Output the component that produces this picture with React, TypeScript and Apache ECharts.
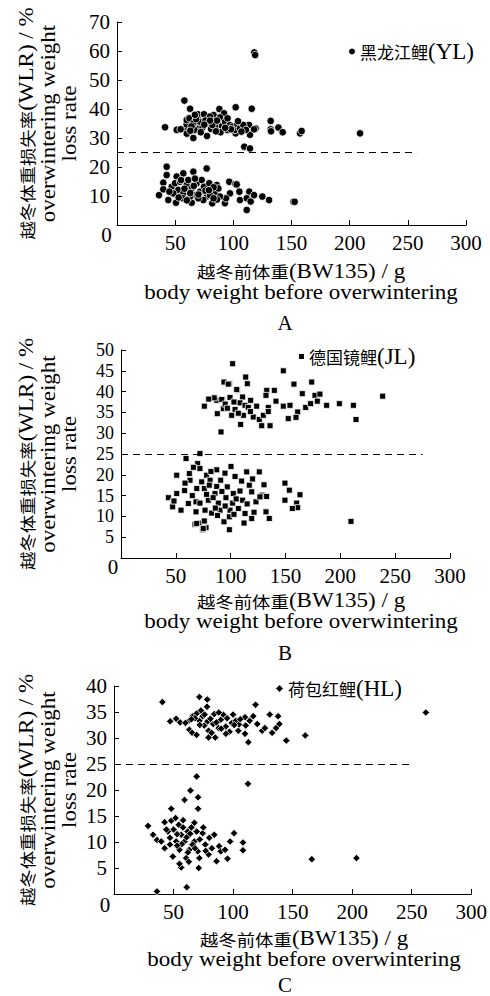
import React, { useEffect, useRef } from "react";
import * as echarts from "echarts";

// ---------- data ----------
const seriesNames = ["黑龙江鲤(YL)", "德国镜鲤(JL)", "荷包红鲤(HL)"];
const panelLetters = ["A", "B", "C"];
const xTicks = [0, 50, 100, 150, 200, 250, 300];
const yMaxes = [70, 50, 40];
const yIntervals = [10, 5, 5];
const thresholdWLR = 25;
const thresholdEnds = [258, 275, 250];

// 黑龙江鲤 (YL): [BW135 g, WLR %]
const ylPoints = [
  [41.3, 33.7], [52.1, 33], [57.9, 42.9], [62.8, 40.1], [58.5, 33], [59.9, 34.7], [61.3, 36.7], [65.6, 30],
  [70.2, 37.9], [70.7, 33.3], [77.4, 30.7], [78.8, 37.1], [83, 37.9], [88, 40], [92, 38.5], [102, 40.6],
  [115.8, 40.1], [118, 59.5], [118.8, 58.6], [109.4, 27], [114.3, 26.4], [113.5, 34.5], [114.3, 31.1],
  [119.2, 33.3], [110.6, 32.8], [102, 31.6], [132.1, 35.9], [132.1, 33], [132.4, 32.3], [138.7, 33.6],
  [142.4, 32], [157.3, 31.6], [158.7, 32.4], [208.9, 31.6],
  [51.3, 32.8], [54.7, 33], [59.9, 36.2], [62.2, 36.8], [65.6, 35.1], [66.5, 32.8], [69.5, 38.2], [71.3, 35.6],
  [73.6, 33.7], [74.8, 38.2], [77.1, 35.1], [79.9, 37.4], [80.8, 33.1], [84.2, 35.6], [86.2, 33.9], [88.5, 37.1],
  [90.3, 34.1], [92.8, 35.5], [94.8, 32.8], [97.1, 34.5], [99.4, 33.9], [101.4, 32.8], [103.4, 34.8],
  [105.7, 33.3], [108.6, 34.5], [110.9, 32.8], [117.8, 33],
  [64, 34], [68, 36.5], [72, 32], [76, 36], [82, 34.5], [86, 36], [95, 36.8], [98, 33], [60, 31.5], [89, 32],
  [67, 38], [80, 36], [93, 33.5], [104, 35.8], [107, 32.2], [63, 32.5], [75, 34.6], [85, 32.3],
  [36.1, 10.3], [42.7, 20.1], [42.7, 17.2], [39.8, 14.6], [39.8, 12.3], [44.1, 8.6], [51.3, 16.7], [57, 17.8],
  [65.6, 18.4], [77.1, 19.5], [50.7, 7.7], [64.2, 7.7], [81.9, 7.5], [96.5, 14.9], [97.1, 10.9], [101.7, 14.1],
  [105.2, 11.5], [105.7, 8.6], [111.5, 5.2], [113.7, 11.5], [111.5, 9.2], [114.9, 8.1], [117.8, 10.3],
  [124.9, 9.8], [130.7, 8.6], [151.6, 8], [152.7, 8], [92.8, 7.5], [93.7, 9.2],
  [47, 13.2], [49.9, 14.4], [54.2, 14.9], [52.7, 12.1], [57, 10.9], [59.9, 13.8], [61.3, 15.5], [64.2, 12.6],
  [67.1, 10.3], [68.5, 14.4], [71.3, 11.5], [72.8, 15.5], [74.8, 13.2], [77.1, 9.8], [79.3, 14.4], [81.4, 12.1],
  [84.2, 10.9], [85.7, 13.8], [87.1, 12.6], [88.5, 9.8], [56.5, 9.2], [48.4, 10.9], [74.2, 8.6], [69.9, 9.2],
  [62.8, 9.8], [45, 11.5], [53, 9.5], [58, 12.5], [66, 13.5], [70, 10.5], [76, 11.8], [80, 10.3], [83, 13],
  [86, 8.8], [63, 11], [55, 15.5], [79, 12], [60, 8.5], [67, 16], [83, 9.2], [102.9, 14],
];

// 德国镜鲤 (JL)
const jlPoints = [
  [76, 36.5], [87.8, 34.7], [91.2, 30.3], [87.3, 37.9], [92.7, 38.1], [93.9, 42.3], [98.8, 41.9], [101.8, 46.7],
  [99.4, 38.6], [93.3, 35.9], [104, 35.7], [100.9, 34.3], [106.1, 40.3], [109.1, 32.1], [110.9, 38.7],
  [108.5, 37.3], [113.7, 43.5], [115.2, 41.9], [113.1, 36.7], [111.6, 34.3], [116.1, 36.2], [118.2, 37.9],
  [120.6, 33.9], [123.7, 36.5], [126.1, 33.3], [128.3, 31.8], [129.8, 34.3], [132.9, 40.3], [132.2, 39.1],
  [134.3, 36.2], [134.3, 35.2], [135.9, 31.8], [139.8, 40.3], [141.3, 37.7], [148, 45], [148, 36.5],
  [152.5, 33.5], [154.1, 36.7], [157.7, 41.8], [161.1, 35.1], [159.6, 33.8], [165.3, 39.5], [168.4, 36.2],
  [172.9, 37.1], [173.9, 42.3], [176.9, 39.1], [179, 37.7], [181.4, 39.4], [187.5, 36.7], [199.1, 37.1],
  [211.9, 36.7], [214.3, 33.3], [238.6, 38.9], [97.8, 41.8], [105.5, 40.5], [91.8, 38.1],
  [95, 37], [103, 37.5], [97, 36], [107, 34.8], [118, 35.2], [85, 38.5], [80, 38.2],
  [59.3, 23.9], [72, 25.1], [69.9, 22.7], [72, 21.5], [50.8, 19.9], [62.3, 20.3], [62.9, 18.7], [58.4, 18],
  [87.3, 21.2], [100.3, 22], [94.8, 20.4], [104, 19.6], [114.6, 20.7], [126.1, 20.7], [78.1, 19.9],
  [81.2, 18.7], [90.9, 18.7], [73.6, 18.3], [69.1, 16.7], [76, 16.7], [80.5, 17.5], [87.3, 17.2], [96.9, 17.1],
  [108.5, 16.1], [117, 17.5], [130.4, 17.6], [119.2, 15.9], [128.8, 15.1], [43.2, 14.5], [50.8, 15.5],
  [47.7, 13.5], [47.1, 12.3], [54.7, 11.5], [61.4, 13.1], [68.4, 13.5], [72, 13.2], [79.6, 13.9], [88.7, 13.2],
  [95.7, 14.5], [101.8, 13.2], [110.9, 13.9], [123.1, 13.5], [126.7, 14.7], [132.8, 14.8], [68.4, 11.1],
  [76.6, 11.5], [82.7, 10.8], [90.3, 11.5], [99.4, 11.5], [107, 11.9], [113.1, 10.7], [121.3, 11],
  [132.2, 11.1], [135.2, 9.5], [71.4, 8.4], [76, 8.9], [67.5, 8.1], [77.5, 7.3], [74.5, 6.8], [93.9, 8.7],
  [98.8, 6.8], [98.8, 9.9], [112.2, 8.4], [119.2, 9.5], [102.4, 15.5], [85.7, 15.5], [149.5, 18], [153.5, 16.3],
  [163.2, 15.2], [149.5, 13.9], [160.2, 13.2], [161.1, 12.1], [156.2, 11.9], [209.7, 8.8], [48.3, 13.7],
  [69, 8.3], [75, 7.1], [84, 14.5], [92, 16], [105, 14.2], [115, 13], [65, 15], [78, 15.3], [88, 10.2],
  [95, 12.5], [82, 20.8], [110, 18.5], [66, 21.8], [120, 19], [86, 12], [103, 10.5], [58, 16.2],
];

// 荷包红鲤 (HL)
const hlPoints = [
  [40.6, 36.9], [71.7, 37.9], [78.3, 37.4], [78.1, 36], [118.9, 36.4], [47.2, 33.2], [52.2, 33.7], [55.6, 33],
  [62.8, 33.3], [66.1, 34.2], [69.4, 34.7], [63.3, 31.6], [65.6, 31], [69.4, 30.6], [71.7, 33.3], [74.4, 34.2],
  [75.8, 32.4], [78.6, 33.2], [79.4, 31.4], [79.4, 30.1], [84.2, 34.6], [83.3, 32.7], [85, 30.1], [87.8, 31.9],
  [89.7, 33.5], [91.7, 34.5], [93.9, 32.2], [100, 34.5], [98.9, 32.9], [102.2, 33.3], [104.4, 31.4],
  [105, 32.6], [110, 34], [110.6, 32.4], [110, 30.8], [112.8, 29.2], [113.9, 33.3], [116.9, 34.2],
  [120.3, 32.7], [124.4, 31.4], [126.7, 31.9], [130.8, 34.5], [137.8, 34.2], [138.9, 32.7], [136.1, 31.9],
  [132.8, 31], [144.7, 29.5], [160.6, 30.5], [261.9, 34.9],
  [68, 33.8], [72, 32.5], [76, 34.5], [81, 33.7], [86, 33], [90, 31.8], [95, 33.8], [97, 31.2], [101, 32.5],
  [106, 33.6], [60, 32.9], [65, 33.6], [88, 34.9], [82, 31], [73, 35.3], [94, 30.8],
  [69.4, 22.6], [112.5, 21.2], [64.2, 19.9], [59.2, 18.1], [70.6, 18.6], [70.6, 16.4], [48.1, 16.4],
  [28.6, 13.1], [32.8, 11.4], [36.1, 10.4], [42.5, 13.8], [48.1, 14.1], [51.7, 14.6], [39.7, 10.1],
  [42.5, 8.8], [49.4, 7.2], [45.3, 12], [50, 12.4], [54.4, 13.3], [56.4, 11.4], [52.2, 10.1], [55, 8.5],
  [59.2, 10.1], [61.9, 12], [63.3, 8.5], [60.6, 6.9], [56.4, 5.1], [62.8, 6.2], [67.5, 13.7], [69.4, 12],
  [67.5, 10.1], [70.3, 8.2], [74.4, 11.7], [71.7, 6.9], [76.7, 9.5], [80, 10.8], [79.4, 7.6], [84.2, 11.4],
  [82.2, 8.8], [88.3, 9.2], [89.7, 8.2], [93.3, 8.5], [86.1, 6.3], [95.3, 6.8], [97.5, 10.1], [100.8, 11.7],
  [108.3, 9.9], [108.3, 8.4], [71.1, 5], [166.1, 6.7], [203.6, 6.9], [36.1, 0.5], [61.1, 1.3],
  [53, 11.5], [58, 12.8], [61, 10.9], [64, 11.6], [66, 9.5], [72, 10.5], [57, 9.6], [47, 10.8], [44, 12.4],
  [68, 8.8], [75, 12.8], [62, 8], [53, 9.3], [58, 14.2], [65, 12.8], [77, 8.3], [47, 9.5], [55, 5.8],
];

const allPoints = [ylPoints, jlPoints, hlPoints];
const xTitle = "越冬前体重(BW135) / g";
const xTitle2 = "body weight before overwintering";
const yTitle1 = "越冬体重损失率(WLR) / %";
const yTitle2 = "overwintering weight";
const yTitle3 = "loss rate";

// ---------- layout / style ----------
const LATIN = "'Liberation Serif', 'Times New Roman', serif";
const CJK = "'Noto Sans CJK SC', sans-serif";
const titleRich = {
  c: { fontFamily: CJK, fontSize: 16, lineHeight: 20, color: "#000" },
  l: { fontFamily: LATIN, fontSize: 20, lineHeight: 20, color: "#000" },
};
const legendRich = {
  c: { fontFamily: CJK, fontSize: 17, lineHeight: 22, color: "#000" },
  l: { fontFamily: LATIN, fontSize: 23, lineHeight: 22, color: "#000" },
};
const mixed = (s: string) => {
  const i = s.indexOf("(");
  return `{c|${s.slice(0, i)}}{l|${s.slice(i)}}`;
};
const STRETCH = 1.15;

const grids = [
  { left: 117, top: 22, width: 349, height: 203 },
  { left: 121, top: 350, width: 329, height: 208 },
  { left: 114, top: 686, width: 360, height: 208 },
];
const yLabelSizes = [21, 18, 21];
const symbols = ["circle", "rect", "diamond"];
const symbolSizes = [7.5, 6, 7.5];
const legendPos = [
  { left: 349, top: 40, size: 6 },
  { left: 299, top: 345, size: 5 },
  { left: 276, top: 677, size: 7 },
];
const originLabel = [
  [106.5, 235],
  [113, 567],
  [105, 905],
];
const yTitleX = [27, 48.5, 69.5];
const xTitleY = [
  [271.5, 292.5, 323],
  [601, 622, 652.5],
  [939, 960, 984.5],
];
const xTitleX = [301, 301, 304];

function buildOption() {
  const graphics: any[] = [];
  const plain = (text: string, size: number) => ({
    text, fontFamily: LATIN, fontSize: size, lineHeight: size, fill: "#000", align: "center", verticalAlign: "middle",
  });
  grids.forEach((g, i) => {
    const cy = g.top + g.height / 2;
    graphics.push({
      type: "text", x: yTitleX[0], y: cy, rotation: Math.PI / 2, scaleX: STRETCH,
      style: { text: mixed(yTitle1), rich: titleRich, align: "center", verticalAlign: "middle" },
    });
    graphics.push({
      type: "text", x: yTitleX[1], y: cy, rotation: Math.PI / 2, scaleX: STRETCH,
      style: plain(yTitle2, 20),
    });
    graphics.push({
      type: "text", x: yTitleX[2], y: cy, rotation: Math.PI / 2, scaleX: STRETCH,
      style: plain(yTitle3, 20),
    });
    graphics.push({
      type: "text", x: xTitleX[i], y: xTitleY[i][0], scaleX: STRETCH,
      style: { text: mixed(xTitle), rich: titleRich, align: "center", verticalAlign: "middle" },
    });
    graphics.push({
      type: "text", x: xTitleX[i], y: xTitleY[i][1], scaleX: STRETCH,
      style: plain(xTitle2, 20),
    });
    graphics.push({
      type: "text", x: 285, y: xTitleY[i][2],
      style: plain(panelLetters[i], 21),
    });
    graphics.push({
      type: "text", x: originLabel[i][0], y: originLabel[i][1],
      style: plain(String(xTicks[0]), 21),
    });
  });

  const hideZero = (v: number) => (v === 0 ? "" : String(v));
  const axisCommon = {
    axisLine: { show: true, onZero: false, lineStyle: { color: "#000", width: 1 } },
    axisTick: { show: true, inside: true, length: 5, lineStyle: { color: "#000", width: 1 } },
    splitLine: { show: false },
  };
  const labelCommon = {
    formatter: hideZero,
    color: "#000",
    fontFamily: LATIN,
    fontSize: 21,
    margin: 7,
    showMinLabel: true,
    showMaxLabel: true,
    hideOverlap: false,
    interval: 0,
  };

  return {
    animation: false,
    backgroundColor: "#fff",
    grid: grids.map((g) => ({ ...g, containLabel: false })),
    xAxis: grids.map((_, i) => ({
      gridIndex: i,
      type: "value",
      min: xTicks[0],
      max: xTicks[xTicks.length - 1],
      interval: xTicks[1] - xTicks[0],
      ...axisCommon,
      axisLabel: { ...labelCommon, margin: 7 },
    })),
    yAxis: grids.map((_, i) => ({
      gridIndex: i,
      type: "value",
      min: 0,
      max: yMaxes[i],
      interval: yIntervals[i],
      ...axisCommon,
      axisLabel: { ...labelCommon, fontSize: yLabelSizes[i] },
    })),
    legend: grids.map((_, i) => ({
      data: [seriesNames[i]],
      left: legendPos[i].left,
      top: legendPos[i].top,
      padding: 0,
      itemWidth: legendPos[i].size,
      itemHeight: legendPos[i].size,
      itemStyle: { borderWidth: 0, color: "#000" },
      selectedMode: false,
      textStyle: { lineHeight: 22, rich: legendRich },
      formatter: (name: string) => mixed(name),
    })),
    series: allPoints.map((pts, i) => ({
      name: seriesNames[i],
      type: "scatter",
      xAxisIndex: i,
      yAxisIndex: i,
      symbol: symbols[i],
      symbolSize: symbolSizes[i],
      itemStyle: { color: "#000", borderColor: "#fff", borderWidth: 0.8, opacity: 1 },
      emphasis: { disabled: true },
      data: pts,
      markLine: {
        silent: true,
        animation: false,
        symbol: ["none", "none"],
        label: { show: false },
        lineStyle: { color: "#000", type: [7, 5], width: 1 },
        data: [[{ coord: [0, thresholdWLR] }, { coord: [thresholdEnds[i], thresholdWLR] }]],
      },
    })),
    graphic: graphics,
  };
}

export default function App() {
  const ref = useRef<HTMLDivElement>(null);
  useEffect(() => {
    if (!ref.current) return;
    const chart = echarts.init(ref.current, undefined, { renderer: "svg" });
    chart.setOption(buildOption() as any);
    return () => chart.dispose();
  }, []);
  return (
    <div
      ref={ref}
      style={{ position: "absolute", left: 0, top: 0, width: 490, height: 996, background: "#fff" }}
    />
  );
}
